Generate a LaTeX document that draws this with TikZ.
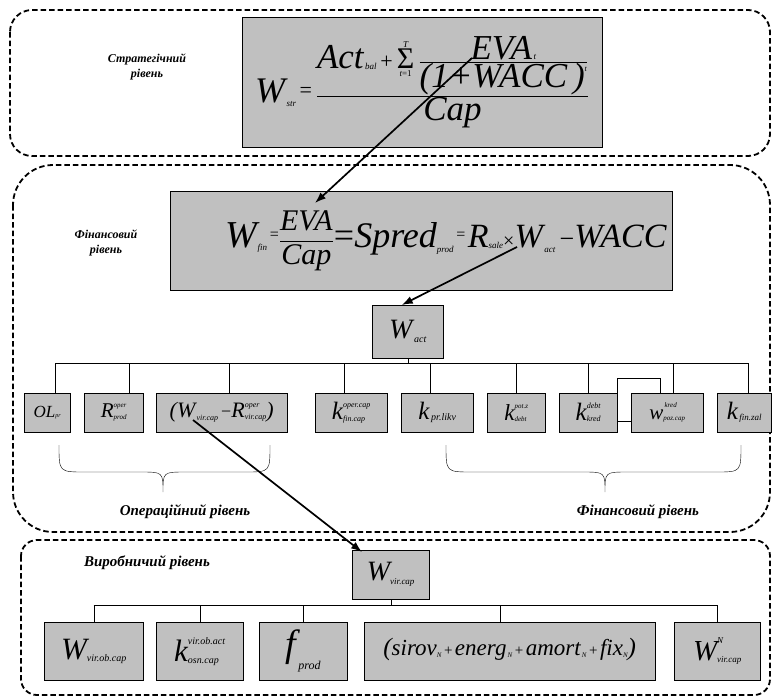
\documentclass[tikz,border=0pt]{standalone}
\usepackage{fontspec}
\setmainfont{Liberation Serif}
\usetikzlibrary{calc,positioning,arrows.meta}
\definecolor{boxgray}{RGB}{192,192,192}
\newcommand{\bs}[2]{{\fontsize{#1}{#1}\selectfont\itshape #2}}
\newcommand{\rmx}[2]{{\fontsize{#1}{#1}\selectfont #2}}
\newcommand{\lowx}[3]{\raisebox{#2}{\fontsize{#1}{#1}\selectfont\itshape #3}}
\newsavebox{\supbox}\newsavebox{\subbox}\newlength{\scrwd}
\newcommand{\both}[5]{{\fontsize{#1}{#1}\selectfont\itshape
  \sbox{\supbox}{#2}\sbox{\subbox}{#3}%
  \setlength{\scrwd}{\wd\supbox}\ifdim\wd\subbox>\scrwd\setlength{\scrwd}{\wd\subbox}\fi
  \rlap{\raisebox{#4}{\usebox{\supbox}}}\raisebox{#5}{\makebox[\scrwd][l]{\usebox{\subbox}}}}}

\tikzset{
  gbox/.style 2 args={draw=black,fill=boxgray,inner sep=0pt,anchor=north west,minimum width=#1pt,minimum height=#2pt},
  layerbox/.style={line width=1.8pt,dash pattern=on 5.5pt off 3pt},
  lbl/.style={font=\fontsize{12}{15}\selectfont\bfseries\itshape,align=center},
  arr/.style={-{Latex[length=11pt,width=8pt]},line width=1.7pt}
}

\begin{document}
\begin{tikzpicture}[x=1pt,y=-1pt]
\useasboundingbox (0,0) rectangle (774,697);

% levels
\draw[layerbox,rounded corners=22pt] (10,10) rectangle (770,156);
\draw[layerbox,rounded corners=40pt] (13,165) rectangle (770,532);
\draw[layerbox,rounded corners=16pt] (21,540) rectangle (770,695);

\node[lbl] (strlbl) at (147,67) {Стратегічний\\рівень};
\node[lbl] (finlbl) at (106,243) {Фінансовий\\рівень};
\node[lbl,font=\fontsize{15}{17}\selectfont\bfseries\itshape] (oplbl) at (185,512) {Операційний рівень};
\node[lbl,font=\fontsize{15}{17}\selectfont\bfseries\itshape] (finlbl2) at (638,512) {Фінансовий рівень};
\node[lbl,font=\fontsize{15}{17}\selectfont\bfseries\itshape] (prodlbl) at (147,563) {Виробничий рівень};

% formulas
\node[gbox={360}{130},font=\fontsize{24}{26}\selectfont] (strbox) at (242,17)
  {$\displaystyle\hbox{\bs{36}{W}\lowx{9}{-4pt}{\,str}\raisebox{5pt}{\rmx{22}{\,=\,}}}\frac{\hbox{\bs{35}{Act}\lowx{9}{-1pt}{\,bal}\rmx{22}{\,+}}\mathop{\hbox{\rmx{30}{Σ}}}\limits_{\hbox{\bs{9}{t}\rmx{9}{=1}}}^{\hbox{\bs{9}{T}}}\frac{\displaystyle\hbox{\bs{35}{EVA}\lowx{9}{0pt}{\,t}}}{\displaystyle\hbox{\bs{35}{(1+WACC\,)}\lowx{8}{16pt}{t}}}}{\hbox{\bs{35}{Cap}}}$};
\node[gbox={502}{99},font=\fontsize{24}{26}\selectfont] (finbox) at (170,191)
  {$\displaystyle\hbox{\hspace*{50pt}\bs{38}{W}\lowx{9}{-3pt}{fin}\raisebox{8pt}{\rmx{16}{\,=}}}\frac{\hbox{\bs{30}{EVA}}}{\hbox{\bs{30}{Cap}}}\hbox{\rmx{36}{=}\bs{36}{Spred}\lowx{9}{-5pt}{prod}\raisebox{8pt}{\rmx{16}{\,=\,}}\bs{34}{R}\lowx{9}{-1pt}{sale}\rmx{20}{×}\bs{34}{W}\lowx{9}{-5pt}{\,act}\rmx{26}{\,−}\bs{34}{WACC}}$};
\node[gbox={71}{53}] (wact) at (372,305) {\bs{28}{W}\lowx{10}{-4pt}{\,act}};

% financial row
\node[gbox={46}{39}] (olpr) at (24,393) {\bs{17}{OL}\lowx{6}{0pt}{pr}};
\node[gbox={59}{39}] (rprod) at (84,393) {\bs{21}{R}\both{7}{oper}{prod}{10pt}{-2pt}};
\node[gbox={131}{39}] (wrdiff) at (156,393)
  {\bs{22}{(W}\lowx{8}{-3pt}{\,vir.cap}\rmx{18}{\,−}\bs{22}{R}\both{8}{oper}{vir.cap}{10pt}{-2pt}\bs{22}{)}};
\node[gbox={72}{39}] (kfincap) at (315,393) {\bs{25}{k}\both{8}{oper.cap}{fin.cap}{12pt}{-2pt}};
\node[gbox={72}{39}] (kprlikv) at (401,393) {\bs{25}{k}\lowx{10}{-1pt}{\,pr.likv}};
\node[gbox={58}{39}] (kdebt) at (487,393) {\bs{23}{k}\both{7}{pot.z}{debt}{12pt}{-1pt}};
\node[gbox={58}{39}] (kkred) at (559,393) {\bs{25}{k}\both{8}{debt}{kred}{12pt}{-1pt}};
\node[gbox={72}{39}] (wpoz) at (631,393) {\bs{21}{w}\both{7}{\,kred}{poz.cap}{12pt}{-1pt}};
\node[gbox={54}{39}] (kfinzal) at (717,393) {\bs{25}{k}\lowx{9}{-1pt}{\,fin.zal}};

\draw ($(olpr.north)+(8,-30)$) -- ($(kfinzal.north)+(4,-30)$);
\draw (wact.south) -- ($(wact.south)+(0,5)$);
\foreach \n/\dx in {olpr/8,rprod/15,wrdiff/7,kfincap/-7,kprlikv/-7,kdebt/0,kkred/0,wpoz/6,kfinzal/4}
  \draw ($(\n.north)+(\dx,0)$) -- ++(0,-30);
\draw (kkred.north east) -- ++(0,-15) -| ($(wpoz.north)+(-7,0)$);
\draw ($(kkred.east)+(0,8)$) -- ($(wpoz.west)+(0,8)$);

% braces
\draw (59,445) .. controls (59,472) and (59,472) .. (85,472) -- (140,472) .. controls (163,472) and (163,472) .. (163,492)
  .. controls (163,472) and (163,472) .. (186,472) -- (245,472) .. controls (270,472) and (270,472) .. (270,445);
\draw (446,445) .. controls (446,472) and (446,472) .. (472,472) -- (582,472) .. controls (605,472) and (605,472) .. (605,492)
  .. controls (605,472) and (605,472) .. (628,472) -- (716,472) .. controls (741,472) and (741,472) .. (741,445);

% production level
\node[gbox={77}{49}] (wvircap) at (352,550) {\bs{28}{W}\lowx{9}{-4pt}{vir.cap}};
\node[gbox={99}{58}] (wvirob) at (44,622) {\bs{31}{W}\lowx{10}{-2pt}{vir.ob.cap}};
\node[gbox={87}{58}] (kosn) at (156,622) {\bs{31}{k}\both{10}{vir.ob.act}{osn.cap}{17pt}{-2pt}};
\node[gbox={88}{58}] (fprod) at (259,622) {\raisebox{5pt}{\bs{38}{f}}\lowx{12}{-8pt}{\,prod}};
\node[gbox={291}{58}] (costs) at (364,622)
  {\raisebox{8pt}{\bs{25}{(}\bs{23}{sirov}\lowx{7}{-2pt}{N}\rmx{15}{\,+\,}\bs{23}{energ}\lowx{7}{-2pt}{\,N}\rmx{15}{\,+\,}\bs{23}{amort}\lowx{7}{-2pt}{\,N}\rmx{15}{\,+\,}\bs{23}{fix}\lowx{7}{-2pt}{N}\bs{25}{)}}};
\node[gbox={86}{58}] (wvirn) at (674,622) {\bs{29}{W}\both{9}{N}{vir.cap}{17pt}{-2pt}};

\draw (wvirob.north |- 0,605) -- (wvirn.north |- 0,605);
\draw (wvircap.south) -- (wvircap.south |- 0,605);
\foreach \n/\dx in {wvirob/0,kosn/0,fprod/0,costs/-10,wvirn/0}
  \draw ($(\n.north)+(\dx,0)$) -- ++(0,-17);

% links between levels
\coordinate (strpt) at (472,58);
\coordinate (evapt) at (315,203);
\coordinate (actpt) at (517,247);
\coordinate (wvirpt) at (193,420);
\draw[arr] (strpt) -- (evapt);
\draw[arr] (actpt) -- ($(wact.north)+(-6,0)$);
\draw[arr] (wvirpt) -- ($(wvircap.north west)+(10,2)$);
\end{tikzpicture}
\end{document}
